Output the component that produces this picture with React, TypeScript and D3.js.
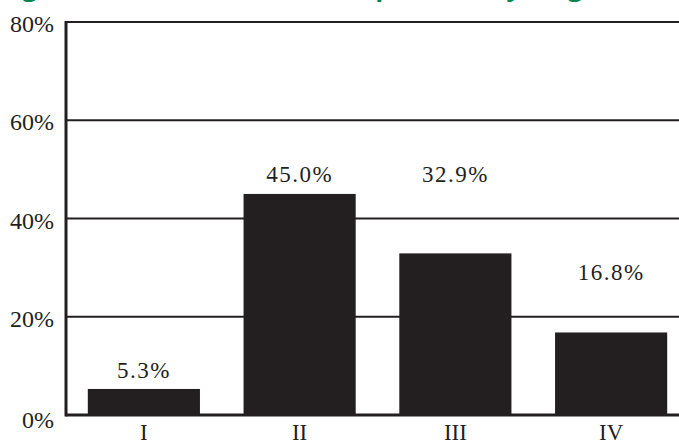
import { useEffect, useRef } from 'react';
import * as d3 from 'd3';

const stages = ['I', 'II', 'III', 'IV'];
const shares = [5.3, 45.0, 32.9, 16.8];
// level (in %) where each value label sits
const labelLevels = [7.5, 47.4, 47.4, 27.5];
const yTicks = [0, 20, 40, 60, 80];
const titleText = 'Figure 2. Distribution of new patients by stage at diagnosis, 2015';

const App = () => {
  const svgRef = useRef<SVGSVGElement | null>(null);

  useEffect(() => {
    const width = 679;
    const height = 444;
    const margin = { top: 22, right: -10, bottom: 29, left: 66 };

    const svg = d3.select(svgRef.current);
    svg.selectAll('*').remove();
    svg.attr('width', width).attr('height', height);

    const x = d3.scaleBand<string>()
      .domain(stages)
      .range([margin.left, width - margin.right])
      .paddingInner(0.28)
      .paddingOuter(0.14);

    const y = d3.scaleLinear()
      .domain([0, 80])
      .range([height - margin.bottom, margin.top]);

    // title, cropped off at the top like the source image
    svg.append('text')
      .attr('x', 0)
      .attr('y', -4)
      .style('font-family', '"Open Sans", sans-serif')
      .style('font-weight', 'bold')
      .style('font-size', '26px')
      .style('fill', '#00874f')
      .text(titleText);

    // gridlines
    svg.append('g')
      .selectAll('line')
      .data(yTicks.filter(t => t > 0))
      .enter()
      .append('line')
      .attr('x1', margin.left)
      .attr('x2', width)
      .attr('y1', d => y(d))
      .attr('y2', d => y(d))
      .attr('stroke', '#231f20')
      .attr('stroke-width', 2.2);

    // bars
    svg.append('g')
      .selectAll('rect')
      .data(shares)
      .enter()
      .append('rect')
      .attr('x', (_, i) => x(stages[i])!)
      .attr('y', d => y(d))
      .attr('width', x.bandwidth())
      .attr('height', d => y(0) - y(d))
      .attr('fill', '#231f20');

    // axis lines
    svg.append('line')
      .attr('x1', margin.left)
      .attr('x2', margin.left)
      .attr('y1', y(80) - 1)
      .attr('y2', y(0) + 1.5)
      .attr('stroke', '#231f20')
      .attr('stroke-width', 3);
    svg.append('line')
      .attr('x1', margin.left)
      .attr('x2', width)
      .attr('y1', y(0))
      .attr('y2', y(0))
      .attr('stroke', '#231f20')
      .attr('stroke-width', 3);

    // y tick labels
    svg.append('g')
      .selectAll('text')
      .data(yTicks)
      .enter()
      .append('text')
      .attr('x', 54)
      .attr('y', d => y(d))
      .attr('dy', d => (d === 0 ? '0.55em' : '0.42em'))
      .attr('text-anchor', 'end')
      .style('font-family', '"Liberation Serif", serif')
      .style('font-size', '24px')
      .style('fill', '#231f20')
      .text(d => `${d}%`);

    // category labels
    svg.append('g')
      .selectAll('text')
      .data(stages)
      .enter()
      .append('text')
      .attr('x', d => x(d)! + x.bandwidth() / 2)
      .attr('y', height - 4)
      .attr('text-anchor', 'middle')
      .style('font-family', '"Liberation Serif", serif')
      .style('font-size', '23px')
      .style('fill', '#231f20')
      .text(d => d);

    // value labels
    svg.append('g')
      .selectAll('text')
      .data(shares)
      .enter()
      .append('text')
      .attr('x', (_, i) => x(stages[i])! + x.bandwidth() / 2)
      .attr('y', (_, i) => y(labelLevels[i]))
      .attr('text-anchor', 'middle')
      .style('font-family', '"Liberation Serif", serif')
      .style('font-size', '23px')
      .style('letter-spacing', '1.5px')
      .style('fill', '#231f20')
      .text(d => `${d.toFixed(1)}%`);
  }, []);

  return <svg ref={svgRef} style={{ position: 'absolute', left: 0, top: 0 }}></svg>;
};

export default App;
